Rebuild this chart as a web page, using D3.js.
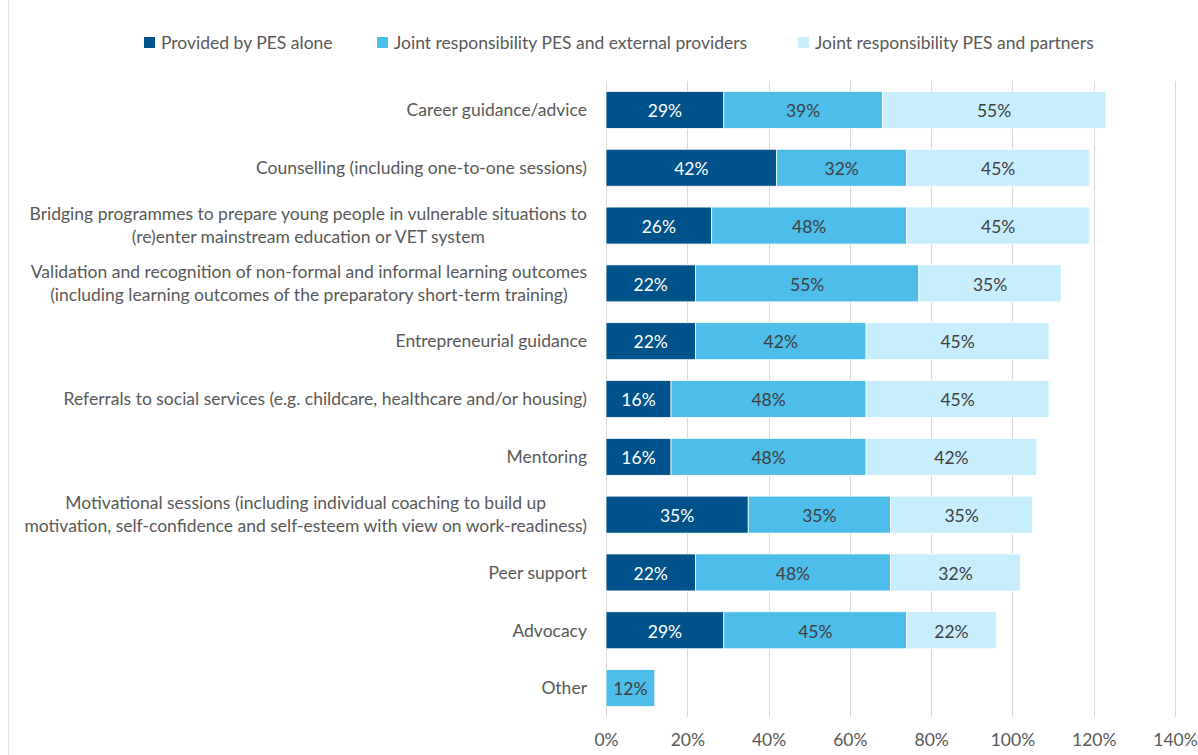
<!DOCTYPE html>
<html>
<head>
<meta charset="utf-8">
<script src="https://cdn.jsdelivr.net/npm/d3@7"></script>
<style>
  html, body { margin: 0; padding: 0; background: #fff; }
  svg { display: block; font-family: Lato, "Noto Sans", sans-serif; }
</style>
</head>
<body>
<svg id="chart" width="1198" height="755"></svg>
<script>
// Services and who provides them (share of PES, %)
const categories = [
  "Career guidance/advice",
  "Counselling (including one-to-one sessions)",
  "Bridging programmes to prepare young people in vulnerable situations to\n(re)enter mainstream education or VET system",
  "Validation and recognition of non-formal and informal learning outcomes\n(including learning outcomes of the preparatory short-term training)",
  "Entrepreneurial guidance",
  "Referrals to social services (e.g. childcare, healthcare and/or housing)",
  "Mentoring",
  "Motivational sessions (including individual coaching to build up\nmotivation, self-confidence and self-esteem with view on work-readiness)",
  "Peer support",
  "Advocacy",
  "Other"
];
const seriesNames = [
  "Provided by PES alone",
  "Joint responsibility PES and external providers",
  "Joint responsibility PES and partners"
];
const pesAlone     = [29, 42, 26, 22, 22, 16, 16, 35, 22, 29, 0];
const pesExternal  = [39, 32, 48, 55, 42, 48, 48, 35, 48, 45, 12];
const pesPartners  = [55, 45, 45, 35, 45, 45, 42, 35, 32, 22, 0];
const tickValues   = [0, 20, 40, 60, 80, 100, 120, 140];

const colors = ["#00538a", "#4dbde9", "#c6eefd"];
const labelColors = ["#ffffff", "#404040", "#404040"];
const FS = 17.5;

const W = 1198, H = 755;
const svg = d3.select("#chart");

// frame line on the left edge
svg.append("line")
  .attr("x1", 8.5).attr("x2", 8.5).attr("y1", 0).attr("y2", H)
  .attr("stroke", "#e3e3e3").attr("stroke-width", 1);

const x = d3.scaleLinear().domain([0, 140]).range([606, 1175]);
const y = d3.scaleBand().domain(categories).range([81, 717]).paddingInner(0.36).paddingOuter(0.18);

// grid lines
svg.append("g").selectAll("line").data(tickValues).join("line")
  .attr("x1", d => Math.round(x(d)) + 0.5).attr("x2", d => Math.round(x(d)) + 0.5)
  .attr("y1", 81).attr("y2", 717)
  .attr("stroke", "#d9d9d9").attr("stroke-width", 1);

// x axis tick labels
const xAxis = d3.axisBottom(x).tickValues(tickValues).tickFormat(d => d + "%").tickSize(0).tickPadding(0);
const gx = svg.append("g").attr("transform", "translate(0,734)").call(xAxis);
gx.select(".domain").remove();
gx.selectAll("text").attr("font-size", FS).attr("fill", "#595959").attr("font-family", "Lato, 'Noto Sans', sans-serif");

// stacked series
const rows = categories.map((c, i) => ({ cat: c, s0: pesAlone[i], s1: pesExternal[i], s2: pesPartners[i] }));
const stack = d3.stack().keys(["s0", "s1", "s2"]);
const layers = stack(rows);

const bh = y.bandwidth();
const layerG = svg.append("g").selectAll("g").data(layers).join("g")
  .attr("fill", (d, i) => colors[i]);

layerG.selectAll("rect").data(d => d.filter(p => p[1] > p[0])).join("rect")
  .attr("x", p => x(p[0]))
  .attr("y", p => y(p.data.cat))
  .attr("width", p => x(p[1]) - x(p[0]))
  .attr("height", bh)
  .attr("stroke", "#ffffff").attr("stroke-width", 0.8);

// value labels
layers.forEach((layer, i) => {
  svg.append("g").selectAll("text").data(layer.filter(p => p[1] > p[0])).join("text")
    .attr("x", p => (x(p[0]) + x(p[1])) / 2)
    .attr("y", p => y(p.data.cat) + bh / 2 + 1)
    .attr("dy", "0.36em")
    .attr("text-anchor", "middle")
    .attr("font-size", FS)
    .attr("fill", labelColors[i])
    .text(p => (p[1] - p[0]) + "%");
});

// category labels: block right-aligned at the axis, lines centred within the block
const catG = svg.append("g");
categories.forEach(c => {
  const lines = c.split("\n");
  const g = catG.append("g");
  const lh = 23;
  const cy = y(c) + bh / 2;
  const texts = lines.map((ln, j) => g.append("text")
    .attr("y", cy + (j - (lines.length - 1) / 2) * lh)
    .attr("dy", "0.36em")
    .attr("font-size", FS)
    .attr("fill", "#595959")
    .text(ln));
  const widths = texts.map(t => t.node().getComputedTextLength());
  const maxW = d3.max(widths);
  const right = 587;
  const center = right - maxW / 2;
  texts.forEach(t => t.attr("x", center).attr("text-anchor", "middle"));
});

// legend
const legend = svg.append("g");
const legendX = [144, 377, 798];
seriesNames.forEach((name, i) => {
  const g = legend.append("g").attr("transform", `translate(${legendX[i]},0)`);
  g.append("rect").attr("x", 0).attr("y", 37).attr("width", 11).attr("height", 11).attr("fill", colors[i]);
  g.append("text").attr("x", 17).attr("y", 43).attr("dy", "0.36em")
    .attr("font-size", FS).attr("fill", "#595959").text(name);
});
</script>
</body>
</html>
